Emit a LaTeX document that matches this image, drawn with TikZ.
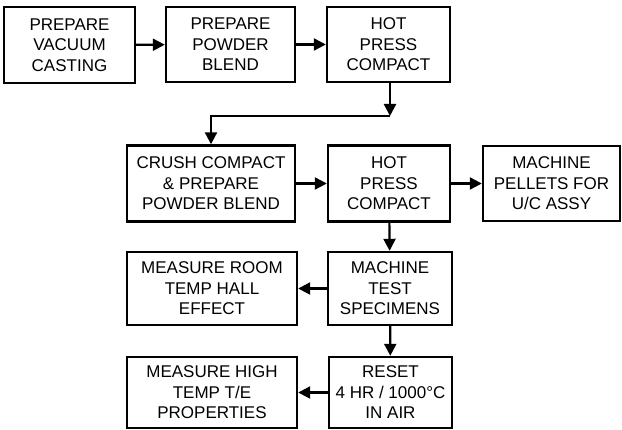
\documentclass[tikz,border=0pt]{standalone}
\usepackage{fontspec}
\setmainfont{Liberation Sans}
\usetikzlibrary{arrows.meta}

\tikzset{
  step box/.style={draw, line width=2.4pt, align=center, inner sep=0pt,
    font=\fontsize{17}{20.5}\selectfont},
  flow/.style={line width=2.2pt, -{Triangle[length=12pt,width=12pt]}}
}

\begin{document}
\begin{tikzpicture}[x=1pt,y=-1pt]
  \useasboundingbox (0,0) rectangle (622,430);

  \node[step box, minimum width=131pt, minimum height=76pt] (cast)  at (69.5,45)  {PREPARE\\VACUUM\\CASTING};
  \node[step box, minimum width=129pt, minimum height=75pt] (blend) at (230.5,44.5) {PREPARE\\POWDER\\BLEND};
  \node[step box, minimum width=123pt, minimum height=75pt] (press) at (388.5,44.5) {HOT\\PRESS\\COMPACT};

  \node[step box, minimum width=168pt, minimum height=76pt] (crush)  at (211,183.5) {CRUSH COMPACT\\\& PREPARE\\POWDER BLEND};
  \node[step box, minimum width=122pt, minimum height=76pt] (repress) at (389,183.5) {HOT\\PRESS\\COMPACT};
  \node[step box, minimum width=137pt, minimum height=75pt] (pellet) at (551.5,183.5) {MACHINE\\PELLETS FOR\\U/C ASSY};

  \node[step box, minimum width=170pt, minimum height=73pt] (hall) at (212,288.5) {MEASURE ROOM\\TEMP HALL\\EFFECT};
  \node[step box, minimum width=124pt, minimum height=73pt] (spec) at (390,288.5) {MACHINE\\TEST\\SPECIMENS};

  \node[step box, minimum width=170pt, minimum height=71pt] (te)    at (212,392.5) {MEASURE HIGH\\TEMP T/E\\PROPERTIES};
  \node[step box, minimum width=123pt, minimum height=71pt] (reset) at (390.5,392.5) {RESET\\4 HR / 1000°C\\IN AIR};

  \coordinate (turn) at (390,116);

  \draw[flow] (cast) -- (blend);
  \draw[flow] (blend) -- (press);
  \draw[flow] (press.south -| turn) -- (turn);
  \draw[flow] (turn) -| (crush.north);
  \draw[flow] (crush) -- (repress);
  \draw[flow] (repress) -- (pellet);
  \draw[flow] (repress) -- (spec);
  \draw[flow] (spec) -- (hall);
  \draw[flow] (spec) -- (reset);
  \draw[flow] (reset) -- (te);
\end{tikzpicture}
\end{document}
